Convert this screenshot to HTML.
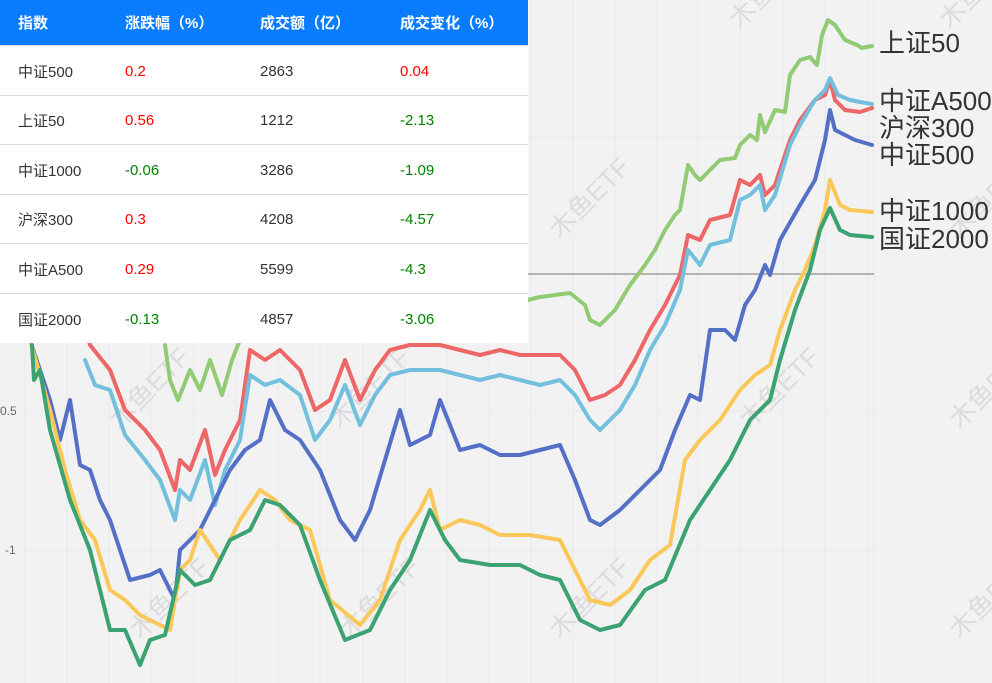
<!DOCTYPE html>
<html><head><meta charset="utf-8"><style>
body{margin:0;width:992px;height:683px;overflow:hidden;background:#f2f2f2;font-family:"Liberation Sans","Noto Sans CJK SC",sans-serif;position:relative}
svg{position:absolute;left:0;top:0}
table{position:absolute;left:0;top:0;width:528px;border-collapse:collapse;background:#fff;font-size:15px;color:#333}
th{background:#0a7cff;color:#fff;height:45px;text-align:left;font-weight:bold;padding:0}
td{height:49.5px;border-top:1px solid #ddd;padding:0;padding-top:2px;box-sizing:border-box}
th:first-child,td:first-child{padding-left:18px;width:107px}
th:nth-child(2),td:nth-child(2){width:135px}
th:nth-child(3),td:nth-child(3){width:140px}
.r{color:#f00}.g{color:#008000}
</style></head><body>
<svg width="992" height="683" font-family="Liberation Sans, Noto Sans CJK SC, sans-serif">
<g stroke="#e6e9f2" stroke-width="1">
<line x1="25" y1="0" x2="25" y2="683"/><line x1="67" y1="0" x2="67" y2="683"/><line x1="109" y1="0" x2="109" y2="683"/><line x1="151" y1="0" x2="151" y2="683"/><line x1="194" y1="0" x2="194" y2="683"/><line x1="236" y1="0" x2="236" y2="683"/><line x1="278" y1="0" x2="278" y2="683"/><line x1="320" y1="0" x2="320" y2="683"/><line x1="363" y1="0" x2="363" y2="683"/><line x1="405" y1="0" x2="405" y2="683"/><line x1="447" y1="0" x2="447" y2="683"/><line x1="489" y1="0" x2="489" y2="683"/><line x1="531" y1="0" x2="531" y2="683"/><line x1="573" y1="0" x2="573" y2="683"/><line x1="615" y1="0" x2="615" y2="683"/><line x1="657" y1="0" x2="657" y2="683"/><line x1="698" y1="0" x2="698" y2="683"/><line x1="740" y1="0" x2="740" y2="683"/><line x1="783" y1="0" x2="783" y2="683"/><line x1="825" y1="0" x2="825" y2="683"/><line x1="868" y1="0" x2="868" y2="683"/><line x1="874" y1="0" x2="874" y2="683"/>
<line x1="25" y1="137" x2="874" y2="137"/><line x1="25" y1="411" x2="874" y2="411"/><line x1="25" y1="550" x2="874" y2="550"/>
</g>
<line x1="25" y1="274" x2="874" y2="274" stroke="#777" stroke-width="1"/>
<g fill="#dcdcdc" font-size="26">
<text transform="translate(560,240) rotate(-45)">木鱼ETF</text>
<text transform="translate(340,430) rotate(-45)">木鱼ETF</text>
<text transform="translate(140,640) rotate(-45)">木鱼ETF</text>
<text transform="translate(560,640) rotate(-45)">木鱼ETF</text>
<text transform="translate(750,430) rotate(-45)">木鱼ETF</text>
<text transform="translate(120,430) rotate(-45)">木鱼ETF</text>
<text transform="translate(350,640) rotate(-45)">木鱼ETF</text>
<text transform="translate(960,640) rotate(-45)">木鱼ETF</text>
<text transform="translate(960,430) rotate(-45)">木鱼ETF</text>
<text transform="translate(960,240) rotate(-45)">木鱼ETF</text>
<text transform="translate(740,30) rotate(-45)">木鱼ETF</text>
<text transform="translate(950,30) rotate(-45)">木鱼ETF</text>
</g>
<g fill="#666" font-size="12"><text x="0" y="415">0.5</text><text x="5" y="554">-1</text></g>
<g fill="none" stroke-width="4" stroke-linejoin="round" stroke-linecap="round">
<polyline stroke="#91cc75" points="165,345 170,380 178,400 190,370 200,390 210,360 222,395 232,360 240,340 300,320 400,310 500,305 520,302 540,297 570,293 585,305 590,320 600,325 615,310 630,285 645,265 655,250 665,230 675,215 680,210 688,165 695,175 700,180 710,170 720,160 735,158 740,145 750,135 757,140 760,115 765,132 775,110 785,112 790,75 800,60 810,57 817,65 822,35 828,20 835,25 845,40 857,45 862,48 872,46"/>
<polyline stroke="#ee6666" points="85,330 90,345 110,370 125,410 145,430 160,450 175,490 180,460 190,470 205,430 215,475 225,450 240,420 250,350 265,360 280,350 300,370 315,410 330,400 345,360 360,400 375,370 390,350 410,345 440,345 460,350 480,355 500,350 520,355 540,355 560,355 575,370 590,400 605,395 620,385 635,360 650,330 665,305 680,275 688,235 700,240 710,220 730,215 740,180 750,185 760,175 765,195 775,185 790,140 800,120 815,100 825,95 830,80 835,100 845,110 860,112 872,108"/>
<polyline stroke="#73c0de" points="85,360 95,385 110,390 125,435 145,460 160,480 175,520 180,490 190,500 205,460 215,505 225,470 240,440 250,375 265,385 280,380 300,395 315,440 330,420 345,385 360,425 375,395 390,375 410,370 440,370 460,375 480,380 500,375 520,380 540,385 560,380 575,395 590,420 600,430 620,410 635,385 650,350 665,325 680,290 688,250 700,265 710,245 730,240 740,200 750,195 760,185 765,210 775,195 790,145 800,125 815,100 825,90 830,78 838,95 850,100 860,102 872,104"/>
<polyline stroke="#5470c6" points="30,340 50,400 60,440 70,400 80,465 90,470 100,500 110,520 120,550 130,580 150,575 160,570 170,590 175,600 180,550 190,540 200,530 215,500 230,470 245,450 260,440 270,400 285,430 300,440 320,470 340,520 355,540 370,510 385,460 400,410 410,445 430,435 440,400 460,450 480,445 500,455 520,455 540,450 560,445 575,480 590,520 600,525 620,510 640,490 660,470 675,430 690,395 700,400 710,330 725,330 735,340 745,305 755,290 765,265 770,275 780,240 800,205 815,180 825,140 830,110 835,130 845,135 855,140 872,145"/>
<polyline stroke="#fac858" points="30,340 50,410 65,470 80,520 95,540 110,590 125,600 140,615 150,620 170,630 180,570 190,560 200,530 220,560 240,520 260,490 275,500 290,520 310,530 330,600 360,625 380,600 400,540 420,510 430,490 440,530 460,520 480,525 500,535 530,535 560,540 575,570 590,600 610,605 630,590 650,560 670,545 685,460 700,440 720,420 740,390 755,375 770,365 780,330 795,290 805,270 815,245 825,210 830,180 840,205 850,210 872,212"/>
<polyline stroke="#3ba272" points="32,345 34,380 40,370 50,430 70,500 90,550 110,630 125,630 140,665 150,640 165,635 180,570 195,585 210,580 230,540 250,530 265,500 280,505 300,525 320,580 345,640 370,630 390,590 410,560 430,510 445,540 460,560 490,565 520,565 540,575 560,580 580,620 600,630 620,625 645,590 665,580 690,520 710,490 730,460 750,420 770,400 780,360 795,310 810,270 820,230 830,208 840,230 850,235 872,237"/>
</g>
<g fill="#333" font-size="26">
<text x="879" y="52">上证50</text>
<text x="879" y="110">中证A500</text>
<text x="879" y="137">沪深300</text>
<text x="879" y="164">中证500</text>
<text x="879" y="220">中证1000</text>
<text x="879" y="248">国证2000</text>
</g>
</svg>
<table>
<tr><th>指数</th><th>涨跌幅（%）</th><th>成交额（亿）</th><th>成交变化（%）</th></tr>
<tr><td>中证500</td><td class="r">0.2</td><td>2863</td><td class="r">0.04</td></tr>
<tr><td>上证50</td><td class="r">0.56</td><td>1212</td><td class="g">-2.13</td></tr>
<tr><td>中证1000</td><td class="g">-0.06</td><td>3286</td><td class="g">-1.09</td></tr>
<tr><td>沪深300</td><td class="r">0.3</td><td>4208</td><td class="g">-4.57</td></tr>
<tr><td>中证A500</td><td class="r">0.29</td><td>5599</td><td class="g">-4.3</td></tr>
<tr><td>国证2000</td><td class="g">-0.13</td><td>4857</td><td class="g">-3.06</td></tr>
</table>
</body></html>
